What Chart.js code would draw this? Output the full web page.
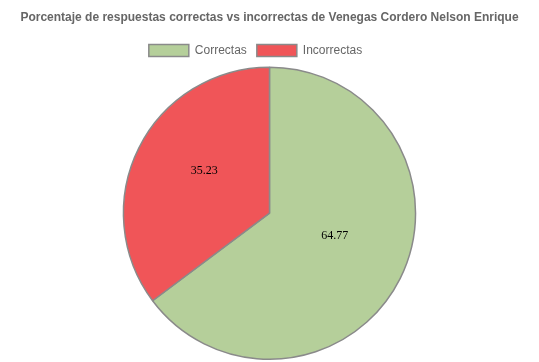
<!DOCTYPE html>
<html>
<head>
<meta charset="utf-8">
<script src="https://cdn.jsdelivr.net/npm/chart.js@4/dist/chart.umd.min.js"></script>
<style>
html,body{margin:0;padding:0;background:#fff;}
#wrap{width:539px;height:362px;position:relative;}
</style>
</head>
<body>
<div id="wrap"><canvas id="c"></canvas></div>
<script>
const categories = ["Correctas", "Incorrectas"];
const values = [64.77, 35.23];
const colors = ["#b5cf9a", "#f05558"];
const titleText = "Porcentaje de respuestas correctas vs incorrectas de Venegas Cordero Nelson Enrique";

const sliceLabels = {
  id: 'sliceLabels',
  afterDatasetsDraw(chart) {
    const ctx = chart.ctx;
    const meta = chart.getDatasetMeta(0);
    ctx.save();
    ctx.font = '12px "Liberation Serif", "Times New Roman", serif';
    ctx.fillStyle = '#000';
    ctx.textAlign = 'center';
    ctx.textBaseline = 'middle';
    meta.data.forEach((arc, i) => {
      const p = arc.getProps(['x','y','startAngle','endAngle','outerRadius']);
      const mid = (p.startAngle + p.endAngle) / 2;
      const r = p.outerRadius * 0.5;
      ctx.fillText(String(values[i]), p.x + Math.cos(mid) * r, p.y + Math.sin(mid) * r - 10);
    });
    ctx.restore();
  }
};

const legendShift = {
  id: 'legendShift',
  afterLayout(chart) {
    if (chart.legend) {
      chart.legend.left -= 14;
      chart.legend.right -= 14;
    }
  }
};

new Chart(document.getElementById('c'), {
  type: 'pie',
  data: {
    labels: categories,
    datasets: [{
      data: values,
      backgroundColor: colors,
      borderColor: '#8a8a8a',
      borderWidth: 1.5
    }]
  },
  options: {
    responsive: true,
    maintainAspectRatio: false,
    animation: false,
    layout: { padding: { bottom: 2 } },
    plugins: {
      title: {
        display: true,
        text: titleText,
        color: '#666',
        font: { family: '"Liberation Sans", Arial, sans-serif', size: 12, weight: 'bold' },
        padding: { top: 10, bottom: 10 }
      },
      legend: {
        labels: {
          color: '#666',
          boxWidth: 40,
          boxHeight: 12,
          font: { family: '"Liberation Sans", Arial, sans-serif', size: 12 }
        }
      },
      tooltip: { enabled: false }
    }
  },
  plugins: [sliceLabels, legendShift]
});
</script>
</body>
</html>
